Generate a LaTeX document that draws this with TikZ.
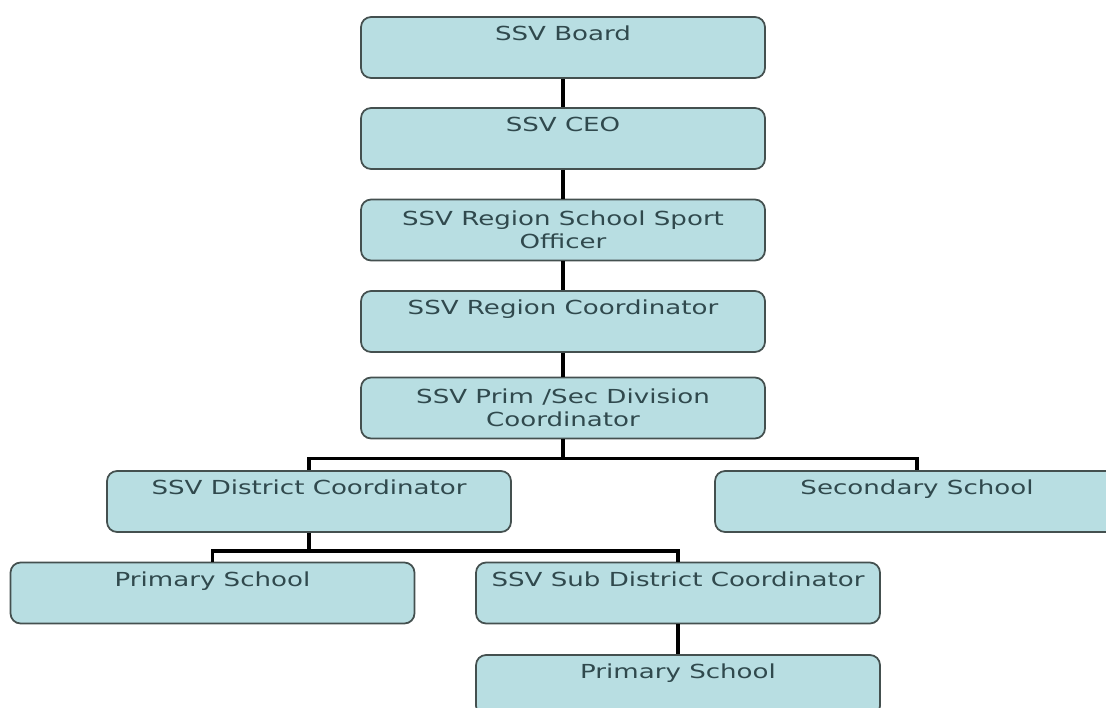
\documentclass[tikz,border=0pt]{standalone}
\usepackage{fontspec}
\setmainfont[FakeStretch=1.35]{DejaVu Sans}
\definecolor{boxfill}{HTML}{B8DEE2}
\definecolor{boxline}{HTML}{44504F}
\definecolor{boxtext}{HTML}{30494D}
\begin{document}
\begin{tikzpicture}[x=0.02cm, y=-0.02cm,
        orgbox/.style={draw=boxline, line width=1pt, fill=boxfill, rounded corners=0.2cm,
            minimum width=8.08cm, minimum height=1.22cm, inner ysep=0pt,
            text=boxtext, font=\fontsize{11}{13}\selectfont, align=center},
        toptext/.style={text height=0.47cm, text depth=0.75cm},
        link/.style={line width=1.9pt}]
        \useasboundingbox (0, 0) rectangle (1106, 707);
        \clip (0, 0) rectangle (1106, 707);
        \node[orgbox, toptext] (board) at (563, 47.5) {SSV Board};
        \node[orgbox, toptext] (ceo) at (563, 138.5) {SSV CEO};
        \node[orgbox] (officer) at (563, 230) {SSV Region School Sport\\Officer};
        \node[orgbox, toptext] (regco) at (563, 321.5) {SSV Region Coordinator};
        \node[orgbox] (divco) at (563, 408) {SSV Prim /Sec Division\\Coordinator};
        \node[orgbox, toptext] (district) at (309, 501.5) {SSV District Coordinator};
        \node[orgbox, toptext] (secondary) at (917, 501.5) {Secondary School};
        \node[orgbox, toptext] (primA) at (212.5, 593) {Primary School};
        \node[orgbox, toptext] (subdist) at (678, 593) {SSV Sub District Coordinator};
        \node[orgbox, toptext] (primB) at (678, 685.5) {Primary School};
        \coordinate (fork1) at ([yshift=-0.38cm]divco.south);
        \coordinate (fork2) at ([yshift=-0.36cm]district.south);
        \draw[link] (board) -- (ceo);
        \draw[link] (ceo) -- (officer);
        \draw[link] (officer) -- (regco);
        \draw[link] (regco) -- (divco);
        \draw[link] (divco.south) -- (fork1);
        \draw[link] (district.north) |- (fork1) -| (secondary.north);
        \draw[link] (district.south) -- (fork2);
        \draw[link] (primA.north) |- (fork2) -| (subdist.north);
        \draw[link] (subdist) -- (primB);
    \end{tikzpicture}
\end{document}
